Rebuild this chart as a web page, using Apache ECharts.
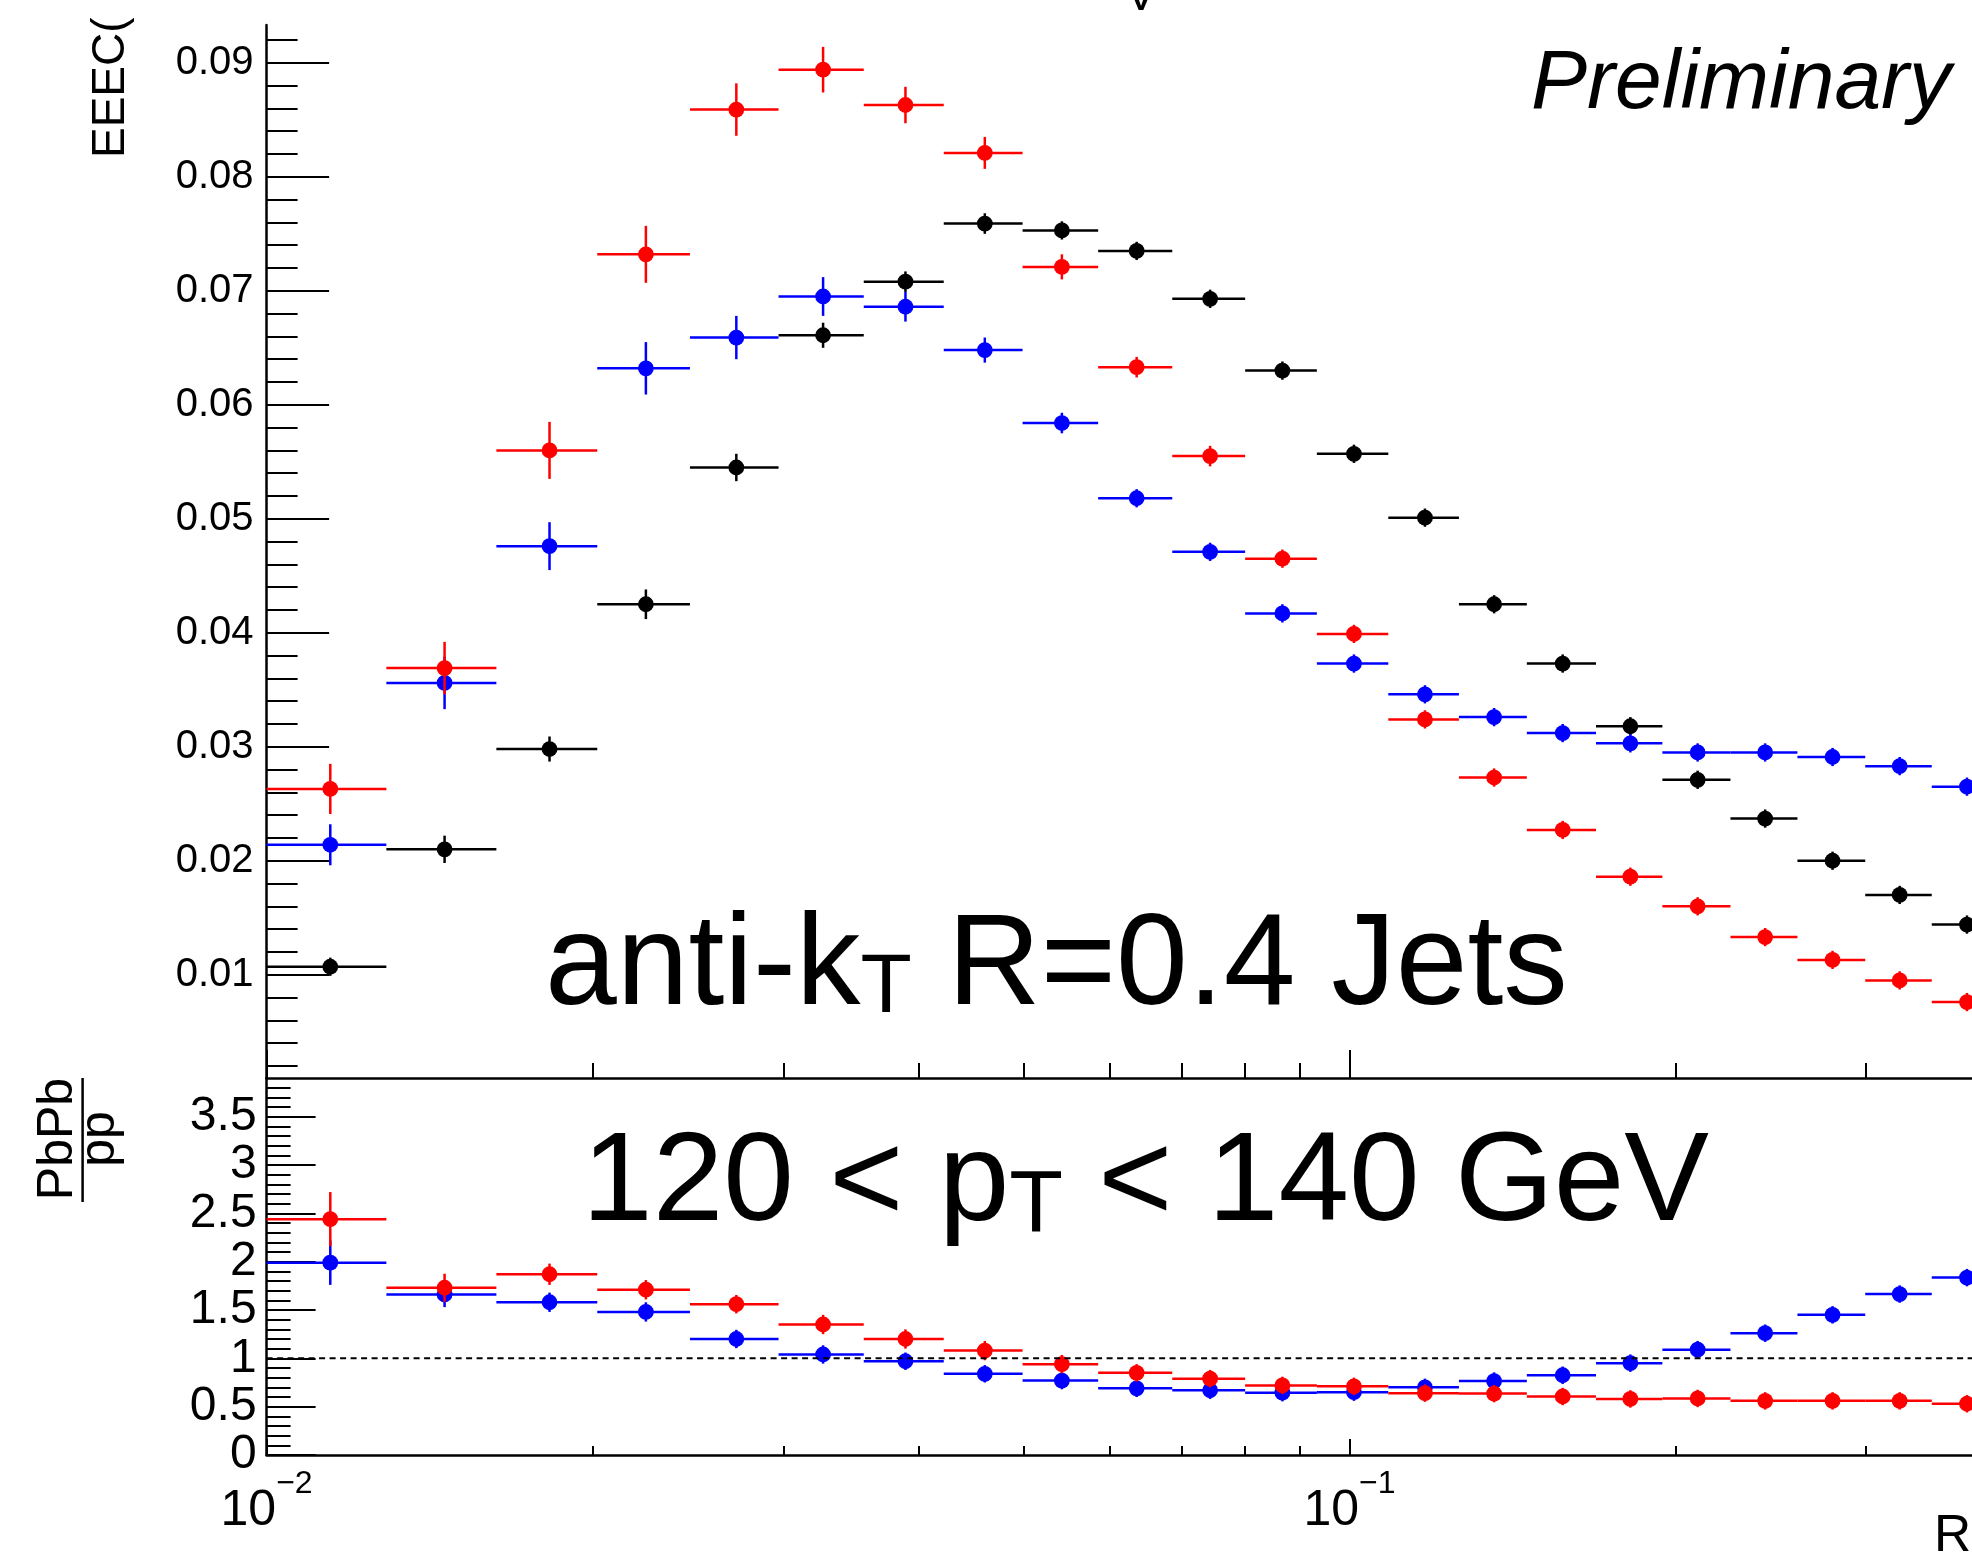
<!DOCTYPE html>
<html>
<head>
<meta charset="utf-8">
<script src="https://cdn.jsdelivr.net/npm/echarts@6/dist/echarts.min.js"></script>
<style>
html,body{margin:0;padding:0;background:#ffffff;}
#chart{width:1972px;height:1562px;}
</style>
</head>
<body>
<div id="chart"></div>
<script>
// ---------------- DATA ----------------
const binEdges = [0.0100, 0.0129, 0.0163, 0.0202, 0.0246, 0.0297, 0.0356, 0.0422, 0.0499, 0.0586, 0.0686,
                  0.0801, 0.0933, 0.1086, 0.1262, 0.1458, 0.1689, 0.1945, 0.2248, 0.2592, 0.2994, 0.3449, 0.3985];

// upper panel: EEEC
const eeecBlack = [0.0107, 0.0210, 0.0298, 0.0425, 0.0545, 0.0661, 0.0708, 0.0759, 0.0753, 0.0735, 0.0693,
                   0.0630, 0.0557, 0.0501, 0.0425, 0.0373, 0.0318, 0.0271, 0.0237, 0.0200, 0.0170, 0.0144];
const eeecBlackErr = [0.0008, 0.0012, 0.0011, 0.0013, 0.0012, 0.0011, 0.0009, 0.0009, 0.0008, 0.0008, 0.0008,
                      0.0008, 0.0008, 0.0008, 0.0008, 0.0008, 0.0008, 0.0008, 0.0008, 0.0008, 0.0008, 0.0008];
const eeecRed = [0.0263, 0.0369, 0.0560, 0.0732, 0.0859, 0.0894, 0.0863, 0.0821, 0.0721, 0.0633, 0.0555,
                 0.0465, 0.0399, 0.0324, 0.0273, 0.0227, 0.0186, 0.0160, 0.0133, 0.0113, 0.0095, 0.0076];
const eeecRedErr = [0.0022, 0.0023, 0.0025, 0.0025, 0.0023, 0.0020, 0.0016, 0.0014, 0.0011, 0.0009, 0.0009,
                    0.0008, 0.0008, 0.0008, 0.0008, 0.0008, 0.0008, 0.0008, 0.0008, 0.0008, 0.0008, 0.0008];
const eeecBlue = [0.0214, 0.0356, 0.0476, 0.0632, 0.0659, 0.0695, 0.0686, 0.0648, 0.0584, 0.0518, 0.0471,
                  0.0417, 0.0373, 0.0346, 0.0326, 0.0312, 0.0303, 0.0295, 0.0295, 0.0291, 0.0283, 0.0265];
const eeecBlueErr = [0.0018, 0.0023, 0.0021, 0.0023, 0.0019, 0.0017, 0.0013, 0.0011, 0.0009, 0.0008, 0.0008,
                     0.0008, 0.0008, 0.0008, 0.0008, 0.0008, 0.0008, 0.0008, 0.0008, 0.0008, 0.0008, 0.0008];

// lower panel: PbPb / pp
const ratioRed = [2.44, 1.73, 1.87, 1.71, 1.56, 1.35, 1.20, 1.08, 0.94, 0.85, 0.79,
                  0.72, 0.71, 0.64, 0.635, 0.605, 0.58, 0.585, 0.56, 0.56, 0.56, 0.53];
const ratioRedErr = [0.28, 0.145, 0.11, 0.10, 0.095, 0.10, 0.10, 0.10, 0.095, 0.09, 0.09,
                     0.09, 0.09, 0.09, 0.09, 0.09, 0.09, 0.09, 0.09, 0.09, 0.09, 0.09];
const ratioBlue = [1.99, 1.66, 1.58, 1.48, 1.20, 1.04, 0.97, 0.84, 0.77, 0.69, 0.67,
                   0.645, 0.65, 0.70, 0.765, 0.825, 0.95, 1.09, 1.26, 1.45, 1.665, 1.835];
const ratioBlueErr = [0.23, 0.13, 0.10, 0.10, 0.095, 0.095, 0.09, 0.09, 0.09, 0.09, 0.09,
                      0.09, 0.09, 0.09, 0.09, 0.09, 0.09, 0.09, 0.09, 0.09, 0.09, 0.09];
const ratioReference = 1;

// tick values / labels
const xMajorTicks = [0.01, 0.1];
const xMinorTicks = [0.02, 0.03, 0.04, 0.05, 0.06, 0.07, 0.08, 0.09, 0.2, 0.3];
const yUpperMajorTicks = [0.01, 0.02, 0.03, 0.04, 0.05, 0.06, 0.07, 0.08, 0.09];
const yLowerMajorTicks = [0, 0.5, 1, 1.5, 2, 2.5, 3, 3.5];

// ---------------- LAYOUT ----------------
const FONT = '"Liberation Sans", Arial, Helvetica, sans-serif';
const K = 0.30;              // canvas 'middle' -> alphabetic baseline offset (em)
const LEFT = 266.6;
const DECADE = 1082.9;
const GRID_W = 1972 - LEFT;
const X_MIN = 0.01;
const X_MAX = Math.pow(10, -2 + GRID_W / DECADE);
const UP_TOP = 25, UP_H = 1053;
const LO_TOP = 1078, LO_H = 377;
const UP_YMIN = 0.000939, UP_YMAX = 0.09332;
const LO_YMIN = 0, LO_YMAX = 3.9;

const yUpperMinorTicks = [];
for (let i = 1; i <= 46; i++) { if (i % 5 !== 0) yUpperMinorTicks.push(+(i * 0.002).toFixed(3)); }
const yLowerMinorTicks = [];
for (let i = 1; i <= 38; i++) { if (i % 5 !== 0) yLowerMinorTicks.push(+(i * 0.1).toFixed(1)); }

function buildData(vals, errs) {
  return vals.map((v, i) => {
    const lo = binEdges[i], hi = binEdges[i + 1];
    return [(lo + hi) / 2, v, lo, hi, errs[i]];
  });
}

function renderer(color) {
  return function (params, api) {
    const xc = api.value(0), y = api.value(1), xlo = api.value(2), xhi = api.value(3), e = api.value(4);
    const pL = api.coord([xlo, y]), pR = api.coord([xhi, y]);
    const pT = api.coord([xc, y + e]), pB = api.coord([xc, y - e]);
    const pC = api.coord([xc, y]);
    return {
      type: 'group',
      children: [
        { type: 'line', shape: { x1: pL[0], y1: pL[1], x2: pR[0], y2: pR[1] }, style: { stroke: color, lineWidth: 2.5 } },
        { type: 'line', shape: { x1: pT[0], y1: pT[1], x2: pB[0], y2: pB[1] }, style: { stroke: color, lineWidth: 2.5 } },
        { type: 'circle', shape: { cx: pC[0], cy: pC[1], r: 7.9 }, style: { fill: color } }
      ]
    };
  };
}

function errSeries(vals, errs, color, xi, yi) {
  return {
    type: 'custom', xAxisIndex: xi, yAxisIndex: yi,
    renderItem: renderer(color),
    encode: { x: 0, y: 1 },
    data: buildData(vals, errs),
    silent: true, animation: false
  };
}

function xAxis(grid, ticks, len, withLine, withLabels) {
  return {
    type: 'log', logBase: 10, gridIndex: grid, min: X_MIN, max: X_MAX, position: 'bottom',
    axisLine: { show: withLine, lineStyle: { color: '#000', width: 2.5 } },
    axisTick: { show: true, inside: true, length: len, customValues: ticks, lineStyle: { color: '#000', width: 2 } },
    axisLabel: withLabels ? {
      show: true, customValues: xMajorTicks, margin: 13,
      formatter: function (v) { return '{b|10}{s|\u2212' + Math.round(-Math.log10(v)) + '}'; },
      rich: {
        b: { fontSize: 50, fontFamily: FONT, color: '#000', lineHeight: 68, verticalAlign: 'bottom' },
        s: { fontSize: 32, fontFamily: FONT, color: '#000', lineHeight: 32, verticalAlign: 'top' }
      }
    } : { show: false },
    splitLine: { show: false }, minorTick: { show: false }
  };
}

function yAxis(grid, min, max, ticks, len, withLine, labelCfg) {
  return {
    type: 'value', gridIndex: grid, min: min, max: max, position: 'left',
    axisLine: { show: withLine, lineStyle: { color: '#000', width: 2.5 } },
    axisTick: { show: true, inside: true, length: len, customValues: ticks, lineStyle: { color: '#000', width: 2 } },
    axisLabel: labelCfg || { show: false },
    splitLine: { show: false }
  };
}

const mctx = document.createElement('canvas').getContext('2d');
function textW(str, size, style) {
  mctx.font = (style || '') + ' ' + size + 'px ' + FONT;
  return mctx.measureText(str).width;
}
// text element positioned by its alphabetic baseline
function txt(str, x, baseline, size, opts) {
  opts = opts || {};
  return {
    type: 'text', x: x, y: baseline, rotation: opts.rotation || 0, silent: true,
    style: {
      text: str, x: 0, y: -K * size, fontSize: size, fontFamily: FONT, fill: '#000',
      fontStyle: opts.italic ? 'italic' : 'normal',
      align: opts.align || 'left', textAlign: opts.align || 'left',
      verticalAlign: 'middle', textVerticalAlign: 'middle'
    }
  };
}

// "anti-kT R=0.4 Jets"
const A_SIZE = 129, A_SUB = 84, A_X = 545, A_BASE = 1007;
const a1 = 'anti-k', a2 = 'T', a3 = ' R=0.4 Jets';
const aX2 = A_X + textW(a1, A_SIZE);
const aX3 = aX2 + textW(a2, A_SUB);
// "120 < pT < 140 GeV"
const P_SIZE = 127, P_SUB = 88, P_X = 582, P_BASE = 1223;
const p1 = '120 < p', p2 = 'T', p3 = ' < 140 GeV';
const pX2 = P_X + textW(p1, P_SIZE);
const pX3 = pX2 + textW(p2, P_SUB);

const graphics = [
  txt('V', 1141, 11.5, 48, { align: 'center' }),
  txt('Preliminary', 1531, 109.5, 84, { italic: true }),
  txt(a1, A_X, A_BASE, A_SIZE), txt(a2, aX2, A_BASE + 7, A_SUB), txt(a3, aX3, A_BASE, A_SIZE),
  txt(p1, P_X, P_BASE, P_SIZE), txt(p2, pX2, P_BASE + 10, P_SUB), txt(p3, pX3, P_BASE, P_SIZE),
  txt('EEEC(', 125, 158, 46, { rotation: Math.PI / 2 }),
  txt('PbPb', 73.7, 1139, 50, { rotation: Math.PI / 2, align: 'center' }),
  txt('pp', 115.2, 1139, 50, { rotation: Math.PI / 2, align: 'center' }),
  { type: 'line', silent: true, shape: { x1: 82.6, y1: 1078, x2: 82.6, y2: 1202 }, style: { stroke: '#000', lineWidth: 2.5 } },
  txt('R', 1934, 1552, 51.5)
];

const option = {
  animation: false,
  backgroundColor: '#ffffff',
  grid: [
    { left: LEFT, top: UP_TOP, width: GRID_W, height: UP_H, containLabel: false, outerBoundsMode: 'none' },
    { left: LEFT, top: LO_TOP, width: GRID_W, height: LO_H, containLabel: false, outerBoundsMode: 'none' }
  ],
  xAxis: [
    xAxis(0, xMajorTicks, 28, true, false),
    xAxis(0, xMinorTicks, 15, false, false),
    xAxis(1, xMajorTicks, 16, true, true),
    xAxis(1, xMinorTicks, 9, false, false)
  ],
  yAxis: [
    yAxis(0, UP_YMIN, UP_YMAX, yUpperMajorTicks, 62.5, true, {
      show: true, customValues: yUpperMajorTicks, margin: 13, fontSize: 40, fontFamily: FONT, color: '#000',
      padding: [4, 0, 0, 0],
      formatter: v => v.toFixed(2)
    }),
    yAxis(0, UP_YMIN, UP_YMAX, yUpperMinorTicks, 31, false, null),
    yAxis(1, LO_YMIN, LO_YMAX, yLowerMajorTicks, 49, true, {
      show: true, customValues: yLowerMajorTicks, margin: 10, fontSize: 48, fontFamily: FONT, color: '#000',
      padding: [5, 0, 0, 0],
      formatter: v => String(Math.round(v * 10) / 10)
    }),
    yAxis(1, LO_YMIN, LO_YMAX, yLowerMinorTicks, 24, false, null)
  ],
  series: [
    errSeries(eeecBlack, eeecBlackErr, '#000000', 0, 0),
    errSeries(eeecBlue, eeecBlueErr, '#0000ff', 0, 0),
    errSeries(eeecRed, eeecRedErr, '#ff0000', 0, 0),
    {
      type: 'line', xAxisIndex: 2, yAxisIndex: 2, silent: true, showSymbol: false, animation: false,
      data: [[X_MIN, ratioReference], [X_MAX, ratioReference]],
      lineStyle: { color: '#000', width: 2, type: [6, 4.5] }
    },
    errSeries(ratioBlue, ratioBlueErr, '#0000ff', 2, 2),
    errSeries(ratioRed, ratioRedErr, '#ff0000', 2, 2)
  ],
  graphic: { elements: graphics }
};

const chart = echarts.init(document.getElementById('chart'), null, { renderer: 'canvas', width: 1972, height: 1562 });
chart.setOption(option);
</script>
</body>
</html>
